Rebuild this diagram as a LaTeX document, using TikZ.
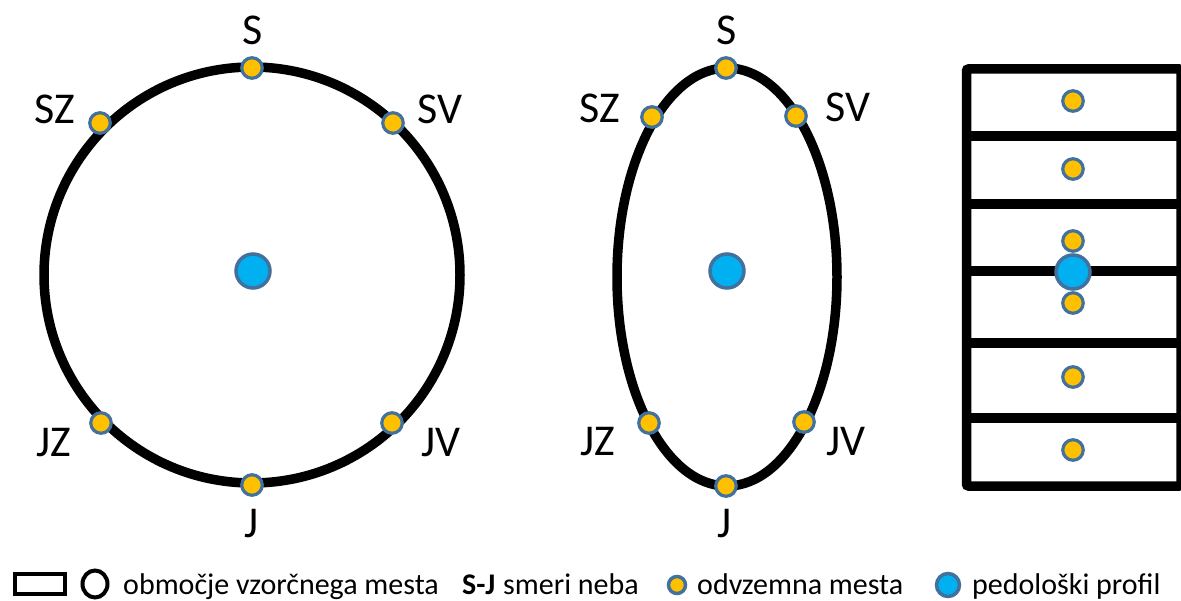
\documentclass[tikz,border=0pt]{standalone}
\usepackage{fontspec}
\setmainfont{Carlito}
\definecolor{dotfill}{HTML}{FFC000}
\definecolor{profilefill}{HTML}{00B0F0}
\definecolor{dotedge}{HTML}{41719C}
\begin{document}
\begin{tikzpicture}[x=1pt,y=-1pt,
  outline/.style={draw=black, line width=9.5pt},
  sample/.style={circle, draw=dotedge, fill=dotfill, line width=3.2pt, minimum size=20.5pt, inner sep=0pt},
  profile/.style={circle, draw=dotedge, fill=profilefill, line width=3.5pt, minimum size=34pt, inner sep=0pt},
  dirlabel/.style={font=\fontsize{44}{50}\selectfont, inner sep=0pt},
  legendtext/.style={font=\fontsize{30}{35}\selectfont, inner sep=0pt, anchor=base west}]
\useasboundingbox (0,0) rectangle (1181,601);

% circular sampling area
\draw[outline] (252,275) circle [radius=208pt];
% elongated sampling area
\draw[outline] (727,277) ellipse [x radius=110pt, y radius=209pt];
% rectangular sampling area split into strips
\draw[outline, rounded corners=2pt] (966.5,69) rectangle (1181,486);
\foreach \yy in {136,204,271,343,418}
  \draw[outline] (966.5,\yy) -- (1181,\yy);

% circle: sampling points and soil profile
\node[sample] (c-s)  at (252,68)  {};
\node[sample] (c-sz) at (100,123) {};
\node[sample] (c-sv) at (393,123) {};
\node[sample] (c-jz) at (101,423) {};
\node[sample] (c-jv) at (392,423) {};
\node[sample] (c-j)  at (252,485) {};
\node[profile] (c-p) at (253,271) {};

\node[dirlabel] at (253,30)  {S};
\node[dirlabel] at (55,109)  {SZ};
\node[dirlabel] at (440,109) {SV};
\node[dirlabel] at (54,443)  {JZ};
\node[dirlabel] at (441,443) {JV};
\node[dirlabel] at (252,524) {J};

% ellipse: sampling points and soil profile
\node[sample] (e-s)  at (726,68)  {};
\node[sample] (e-sz) at (652,117) {};
\node[sample] (e-sv) at (796,116) {};
\node[sample] (e-jz) at (649,423) {};
\node[sample] (e-jv) at (804,422) {};
\node[sample] (e-j)  at (726,486) {};
\node[profile] (e-p) at (727,271) {};

\node[dirlabel] at (727,30)  {S};
\node[dirlabel] at (600,108) {SZ};
\node[dirlabel] at (848,107) {SV};
\node[dirlabel] at (598,442) {JZ};
\node[dirlabel] at (846,442) {JV};
\node[dirlabel] at (725,524) {J};

% rectangle: one sampling point per strip
\node[sample] (r-1) at (1073,101) {};
\node[sample] (r-2) at (1073,169) {};
\node[sample] (r-3) at (1073,241) {};
\node[sample] (r-4) at (1073,303) {};
\node[sample] (r-5) at (1073,377) {};
\node[sample] (r-6) at (1073,450) {};
\node[profile] (r-p) at (1073,272) {};

% legend
\draw[line width=4pt] (15,574) rectangle (65,594);
\draw[line width=4pt] (95,584) ellipse [x radius=12.5pt, y radius=13.5pt];
\node[legendtext] (l-area) at (123,594) {območje vzorčnega mesta};
\node[legendtext] (l-sj) at (462,594) {\textbf{S-J}};
\node[legendtext] (l-dir) at (503,594) {smeri neba};
\node[sample, minimum size=17pt, line width=3.5pt] (l-dot) at (677,585) {};
\node[legendtext] (l-samp) at (697,594) {odvzemna mesta};
\node[profile, minimum size=23pt, line width=3.5pt] (l-prof) at (948,585) {};
\node[legendtext] (l-profile) at (972,594) {pedološki profil};
\end{tikzpicture}
\end{document}
